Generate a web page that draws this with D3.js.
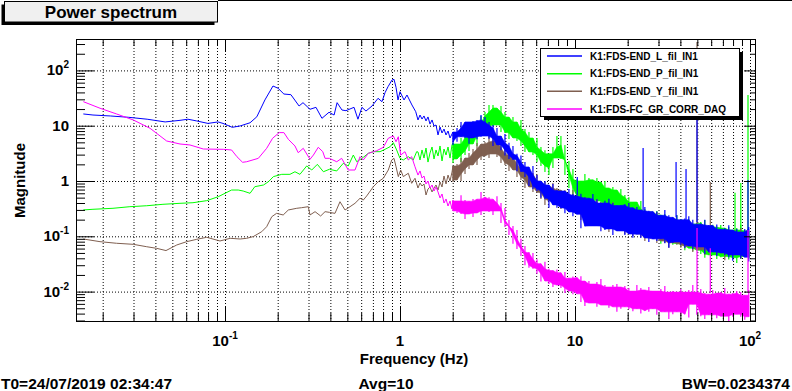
<!DOCTYPE html>
<html><head><meta charset="utf-8">
<script src="https://cdn.jsdelivr.net/npm/d3@7"></script>
<style>body{margin:0;background:#fff;}svg{display:block;font-family:"Liberation Sans",Arial,Helvetica,sans-serif;font-weight:bold;}</style>
</head><body><svg id="c" width="792" height="391"></svg>
<script>
const titleText = "Power spectrum";
const xTitle = "Frequency (Hz)";
const yTitle = "Magnitude";
const infoLeft = "T0=24/07/2019 02:34:47";
const infoMid = "Avg=10";
const infoRight = "BW=0.0234374";
const seriesNames = ["K1:FDS-END_L_fil_IN1","K1:FDS-END_P_fil_IN1","K1:FDS-END_Y_fil_IN1","K1:FDS-FC_GR_CORR_DAQ"];
const seriesColors = ["#0000ff","#00ff00","#7f5f50","#ff00ff"];
const xTickVals = [0.1,1,10,100];
const xTickText = ["10^{-1}","1","10","10^{2}"];
const yTickVals = [0.01,0.1,1,10,100];
const yTickText = ["10^{-2}","10^{-1}","1","10","10^{2}"];

// frequency grid for the dense (noisy) part of the spectra, 2-100 Hz
const bandF = [2.008,2.117,2.232,2.352,2.479,2.613,2.754,2.903,3.059,3.225,3.399,3.582,3.776,3.979,4.194,4.421,4.659,4.911,5.176,5.456,5.750,6.061,6.388,6.733,7.096,7.479,7.883,8.309,8.757,9.230,9.729,10.25,10.81,11.39,12.01,12.65,13.34,14.06,14.82,15.62,16.46,17.35,18.28,19.27,20.31,21.41,22.57,23.78,25.07,26.42,27.85,29.35,30.94,32.61,34.37,36.22,38.18,40.24,42.41,44.70,47.11,49.66,52.34,55.17,58.14,61.28,64.59,68.08,71.76,75.63,79.71,84.02,88.55,93.33,98.37];

// K1:FDS-END_L_fil_IN1 (blue)
const blueLine = [[0.0155,16.3],[0.0176,15.6],[0.0221,15.0],[0.028,14.2],[0.0359,13.1],[0.0455,11.7],[0.0553,12.5],[0.0614,13.1],[0.0688,12.2],[0.0799,11.0],[0.0912,11.7],[0.0974,11.0],[0.110,9.35],[0.122,9.9],[0.139,11.3],[0.152,14.5],[0.169,29.2],[0.188,52.2],[0.201,47.5],[0.217,37.4],[0.238,36.4],[0.265,22.7],[0.279,26.1],[0.306,19.8],[0.331,21.5],[0.358,13.6],[0.393,17.5],[0.420,15.6],[0.437,26.1],[0.466,19.2],[0.491,18.7],[0.546,21.5],[0.575,13.1],[0.606,21.5],[0.639,18.4],[0.692,22.7],[0.749,31.3],[0.789,27.2],[0.821,39.5],[0.854,50.7],[0.900,67],[0.924,69],[0.949,49.4],[0.974,29.2],[1.0,41.2],[1.054,29.2],[1.096,35.9],[1.17,23.7],[1.23,17.9],
  [1.267,12.7],[1.301,15.6],[1.336,13.2],[1.371,15.0],[1.408,12.2],[1.445,14.4],[1.484,10.7],[1.524,12.7],[1.564,9.87],[1.606,10.3],[1.649,6.80],[1.693,9.47],[1.738,7.38],[1.784,8.71],[1.832,6.80],[1.881,8.02],[1.931,6.00],[1.982,7.08]];
const blueHi = [7.7,9.1,11.7,11.7,11.7,12.2,12.7,15.6,14.4,11.7, 10.3,9.1,6.5,7.1,4.9,4.3,3.1,2.9,2.2,1.8, 1.86,1.28,1.0,1.0,0.85,0.88,0.69,0.66,0.66,0.72, 0.58,0.54,0.59,0.51,0.49,0.58,0.47,0.40,0.44,0.48, 0.40,0.36,0.37,0.38,0.40,0.33,0.34,0.30,0.34,0.29, 0.28,0.28,0.24,0.30,0.24,0.22,0.24,0.20,0.21,0.23, 0.20,0.166,0.17,0.20,0.16,0.156,0.163,0.134,0.14,0.159, 0.13,0.136,0.12,0.136,0.148];
const blueLo = [4.5,5.1,6.3,6.0,4.7,6.0,5.7,6.3,6.5,5.8, 4.3,4.5,3.6,2.9,2.5,2.4,1.5,1.45,1.18,0.81, 0.72,0.66,0.50,0.47,0.33,0.37,0.33,0.32,0.26,0.275, 0.23,0.25,0.14,0.152,0.153,0.154,0.153,0.124,0.130,0.136, 0.106,0.125,0.125,0.106,0.11,0.094,0.109,0.093,0.093,0.079, 0.089,0.082,0.090,0.075,0.062,0.076,0.079,0.070,0.062,0.067, 0.059,0.061,0.064,0.048,0.052,0.052,0.044,0.050,0.046,0.042, 0.036,0.046,0.040,0.042,0.035];
const blueSpikes = [[10.3,0.56,1.18],[24.5,0.30,3.95],[37.8,0.22,2.2],[43.1,0.20,1.65],[49.8,0.18,29],[97.4,0.12,1.04]];

// K1:FDS-END_P_fil_IN1 (green)
const greenLine = [[0.0155,0.30],[0.0176,0.308],[0.0229,0.321],[0.0286,0.343],[0.0357,0.357],[0.0442,0.379],[0.0553,0.395],[0.0656,0.405],[0.0786,0.441],[0.0915,0.520],[0.1,0.599],[0.109,0.687],[0.119,0.687],[0.127,0.659],[0.139,0.599],[0.148,0.789],[0.166,0.847],[0.177,0.971],[0.189,1.20],[0.211,1.32],[0.235,1.32],[0.251,1.47],[0.268,1.32],[0.293,1.87],[0.313,1.58],[0.337,2.0],[0.365,1.47],[0.395,1.63],[0.435,1.52],[0.474,2.09],[0.506,1.87],[0.541,2.95],[0.566,2.23],[0.617,2.68],[0.659,3.17],[0.704,3.39],[0.769,3.39],[0.821,3.74],[0.877,4.17],[0.916,4.93],[0.957,3.64],[1.0,2.57],[1.044,2.40],[1.115,2.75],[1.19,2.40],[1.245,3.39],
  [1.267,3.35],[1.301,2.40],[1.336,3.64],[1.371,2.60],[1.408,3.95],[1.445,2.20],[1.484,3.21],[1.524,4.12],[1.564,2.50],[1.606,3.64],[1.649,2.83],[1.693,4.30],[1.738,2.30],[1.784,3.79],[1.832,2.95],[1.881,4.12],[1.931,2.60],[1.982,4.48]];
const greenHi = [4.9,4.67,6.0,8.0,7.1,9.08,11.2,15.0,17.7,23.7, 23.7,20.9,22.7,17.7,14.4,14.3,11.7,12.7,8.71,7.7, 6.0,6.0,4.12,3.6,3.1,4.12,6.5,6.5,4.48,2.3, 1.64,1.08,1.0,1.34,1.13,1.05,1.13,0.96,1.0,0.75, 0.78,0.69,0.72,0.56,0.51,0.417,0.417,0.435,0.312,0.275, 0.275,0.287,0.243,0.253,0.223,0.197,0.242,0.205,0.189,0.205, 0.167,0.174,0.182,0.197,0.148,0.161,0.147,0.160,0.141,0.148, 0.130,0.142,0.161,0.130,0.125];
const greenLo = [2.12,2.50,2.20,2.95,3.49,4.67,4.30,6.52,8.37,7.4, 9.9,10.3,7.7,7.38,5.75,6.0,5.29,4.3,3.34,3.35, 2.95,2.21,1.87,1.45,1.28,1.72,2.6,2.5,1.28,0.747, 0.536,0.368,0.368,0.368,0.453,0.417,0.435,0.325,0.353,0.325, 0.275,0.287,0.205,0.214,0.197,0.160,0.153,0.130,0.101,0.102, 0.105,0.093,0.073,0.082,0.076,0.070,0.073,0.067,0.056,0.061, 0.055,0.056,0.048,0.041,0.046,0.046,0.039,0.042,0.043,0.038, 0.041,0.033,0.039,0.043,0.041];
const greenSpikes = [[82.1,0.13,0.61],[88.6,0.13,0.92],[97.4,0.13,35.9]];

// K1:FDS-END_Y_fil_IN1 (brown)
const brownLine = [[0.0155,0.0894],[0.0193,0.080],[0.0240,0.0748],[0.0299,0.0716],[0.0357,0.0648],[0.0407,0.0606],[0.0460,0.0552],[0.0530,0.0697],[0.0604,0.080],[0.0689,0.0882],[0.0786,0.0959],[0.0936,0.0823],[0.107,0.092],[0.122,0.0894],[0.133,0.092],[0.145,0.0988],[0.162,0.121],[0.173,0.149],[0.185,0.226],[0.197,0.26],[0.215,0.243],[0.230,0.299],[0.257,0.321],[0.274,0.329],[0.299,0.343],[0.306,0.243],[0.327,0.279],[0.352,0.233],[0.373,0.279],[0.395,0.271],[0.425,0.260],[0.454,0.422],[0.485,0.299],[0.518,0.343],[0.553,0.395],[0.591,0.487],[0.617,0.453],[0.645,0.536],[0.704,0.789],[0.751,0.971],[0.803,1.12],[0.857,1.58],[0.897,2.40],[0.924,2.57],[0.949,1.81],[0.978,1.20],[1.009,1.58],[1.044,1.20],[1.115,1.38],[1.166,0.908],[1.218,1.12],
  [1.267,0.747],[1.301,0.920],[1.336,0.812],[1.371,0.883],[1.408,0.558],[1.445,0.717],[1.484,0.779],[1.524,0.633],[1.564,0.747],[1.606,0.847],[1.649,0.687],[1.693,0.959],[1.738,0.779],[1.784,1.23],[1.832,0.883],[1.881,1.28],[1.931,1.0],[1.982,1.45]];
const brownHi = [1.87,2.03,2.61,2.61,3.21,3.80,4.87,4.67,5.07,6.8, 6.0,5.29,5.75,3.95,3.08,2.95,2.72,2.03,1.65,1.52, 1.39,1.33,1.0,0.96,0.815,0.92,0.75,0.69,0.685,0.556, 0.69,0.563,0.49,0.51,0.432,0.435,0.472,0.417,0.353,0.368, 0.417,0.339,0.339,0.339,0.287,0.287,0.312,0.264,0.264,0.233, 0.253,0.275,0.223,0.205,0.223,0.189,0.174,0.189,0.167,0.197, 0.161,0.141,0.141,0.148,0.125,0.148,0.125,0.125,0.110,0.130, 0.115,0.110,0.141,0.111,0.102];
const brownLo = [0.96,1.04,1.0,1.34,1.65,1.95,1.94,2.40,2.83,2.61, 3.08,2.71,2.12,1.95,1.52,1.58,1.18,1.04,0.748,0.779, 0.632,0.607,0.473,0.368,0.435,0.435,0.368,0.312,0.325,0.275, 0.275,0.275,0.197,0.205,0.197,0.160,0.181,0.167,0.147,0.119, 0.147,0.130,0.130,0.110,0.115,0.101,0.110,0.097,0.082,0.093, 0.093,0.076,0.082,0.076,0.062,0.076,0.070,0.062,0.061,0.066, 0.052,0.057,0.057,0.046,0.050,0.054,0.046,0.050,0.037,0.048, 0.044,0.048,0.039,0.044,0.039];
const brownSpikes = [[49.8,0.15,326],[59.3,0.13,0.96]];

// K1:FDS-FC_GR_CORR_DAQ (magenta)
const magentaLine = [[0.0155,27.2],[0.0193,20.7],[0.0240,16.3],[0.0299,12.7],[0.0373,8.97],[0.0464,5.29],[0.0553,4.67],[0.0631,4.48],[0.0752,3.79],[0.0978,3.74],[0.109,3.64],[0.117,2.75],[0.126,2.18],[0.133,2.23],[0.155,2.57],[0.173,3.90],[0.187,5.92],[0.204,7.5],[0.217,7.5],[0.230,5.67],[0.251,4.30],[0.262,3.25],[0.280,3.90],[0.306,2.47],[0.320,2.95],[0.341,4.07],[0.362,3.39],[0.373,2.57],[0.395,2.57],[0.435,2.23],[0.464,2.57],[0.506,1.58],[0.553,1.58],[0.591,2.75],[0.617,2.40],[0.659,3.17],[0.736,3.53],[0.803,4.07],[0.857,5.92],[0.916,6.52],[0.949,5.13],[0.978,6.32],[1.009,2.95],[1.068,3.39],[1.115,2.40],[1.166,2.75],[1.218,1.81],
  [1.267,1.28],[1.301,1.52],[1.336,1.13],[1.371,1.23],[1.408,0.883],[1.445,1.0],[1.484,0.747],[1.524,0.847],[1.564,0.659],[1.606,0.779],[1.649,0.633],[1.693,0.493],[1.738,0.582],[1.784,0.400],[1.832,0.473],[1.881,0.353],[1.931,0.435],[1.982,0.312]];
const magentaHi = [0.45,0.435,0.555,0.454,0.432,0.473,0.47,0.63,0.51,0.51, 0.47,0.53,0.40,0.325,0.197,0.154,0.130,0.090,0.067,0.052, 0.050,0.0386,0.032,0.0345,0.026,0.024,0.025,0.022,0.0227,0.0175, 0.0188,0.018,0.0189,0.0155,0.0155,0.0137,0.0149,0.0169,0.0132,0.0121, 0.0131,0.0137,0.0121,0.0126,0.0116,0.0102,0.0131,0.0116,0.0107,0.0121, 0.0103,0.0102,0.0111,0.0126,0.0098,0.0102,0.0098,0.0111,0.0098,0.0107, 0.0131,0.0098,0.0111,0.0094,0.0090,0.0107,0.0094,0.0098,0.0116,0.0090, 0.0094,0.0102,0.0098,0.0086,0.0107];
const magentaLo = [0.287,0.264,0.253,0.206,0.253,0.223,0.264,0.243,0.287,0.275, 0.243,0.287,0.174,0.148,0.106,0.073,0.059,0.044,0.030,0.027, 0.026,0.021,0.0152,0.0155,0.0137,0.0121,0.0131,0.0116,0.0094,0.0102, 0.0090,0.0091,0.0065,0.0055,0.0062,0.0062,0.0053,0.0057,0.0057,0.0051, 0.0053,0.0043,0.0049,0.0053,0.0048,0.0044,0.0049,0.0040,0.0045,0.0043, 0.0049,0.0038,0.0043,0.0043,0.0032,0.0039,0.0043,0.0038,0.0039,0.0034, 0.0059,0.0038,0.0036,0.0032,0.0038,0.0038,0.0033,0.0036,0.0036,0.0029, 0.0035,0.0039,0.0035,0.0031,0.0035];
const magentaSpikes = [[49.8,0.0098,0.141],[59.3,0.0094,0.061],[97.4,0.0094,0.13]];

const seriesData = [
  {line: blueLine, hi: blueHi, lo: blueLo, spikes: blueSpikes},
  {line: greenLine, hi: greenHi, lo: greenLo, spikes: greenSpikes},
  {line: brownLine, hi: brownHi, lo: brownLo, spikes: brownSpikes},
  {line: magentaLine, hi: magentaHi, lo: magentaLo, spikes: magentaSpikes}
];
const drawOrder = [1,2,0,3];

// ---------- layout ----------
const F = {l:76, r:756, t:39, b:322};
const x = d3.scaleLog().domain([0.014076,108.21]).range([F.l,F.r]);
const y = d3.scaleLog().domain([0.00282,369.7]).range([F.b,F.t]);
const svg = d3.select("#c");

const xAll=[], xMajor=[0.1,1,10,100];
[0.01,0.1,1,10].forEach(d=>{for(let m=1;m<=9;m++){const v=+(m*d).toPrecision(3); if(v>=x.domain()[0]&&v<=x.domain()[1]) xAll.push(v);}});
xAll.push(100);
const xMinor = xAll.filter(v=>!xMajor.includes(v));
const yMajor=[0.01,0.1,1,10,100], yMinor=[];
[0.001,0.01,0.1,1,10,100].forEach(d=>{for(let m=2;m<=9;m++){const v=+(m*d).toPrecision(3); if(v>=y.domain()[0]&&v<=y.domain()[1]) yMinor.push(v);}});

// grid
const grid = svg.append("g");
grid.append("g").attr("transform",`translate(0,${F.b})`)
  .call(d3.axisBottom(x).tickValues(xAll).tickSize(-(F.b-F.t)).tickFormat("").tickSizeOuter(0))
  .call(g=>{g.select(".domain").remove(); g.selectAll("line").attr("stroke","#000").attr("stroke-dasharray","1,2");});
grid.append("g").attr("transform",`translate(${F.l},0)`)
  .call(d3.axisLeft(y).tickValues(yMajor).tickSize(-(F.r-F.l)).tickFormat("").tickSizeOuter(0))
  .call(g=>{g.select(".domain").remove(); g.selectAll("line").attr("stroke","#000").attr("stroke-dasharray","1,2");});

// series
svg.append("clipPath").attr("id","clip").append("rect").attr("x",F.l).attr("y",F.t).attr("width",F.r-F.l).attr("height",F.b-F.t);
const plot = svg.append("g").attr("clip-path","url(#clip)");
const lineGen = d3.line().x(d=>x(d[0])).y(d=>y(d[1]));
const areaGen = d3.area().x(d=>x(d[0])).y0(d=>y(d[1])).y1(d=>y(d[2]));
drawOrder.forEach(k=>{
  const s = seriesData[k], col = seriesColors[k];
  const n = bandF.length;
  // low-frequency trace joined to the first dense bin
  plot.append("path").attr("d",lineGen(s.line.concat([[bandF[0],s.hi[0]]]))).attr("fill","none").attr("stroke",col).attr("stroke-width",1);
  // dense core: inner envelope of neighbouring bins
  const core = bandF.map((f,i)=>{
    const a=Math.max(0,i-1), b=Math.min(n-1,i+1);
    let lo=Math.max(s.lo[a],s.lo[i],s.lo[b]), hi=Math.min(s.hi[a],s.hi[i],s.hi[b]);
    if(lo>hi){const m=Math.sqrt(lo*hi); lo=m; hi=m;}
    return [f,lo,hi];
  });
  plot.append("path").attr("d",areaGen(core)).attr("fill",col).attr("stroke",col).attr("stroke-width",0.6);
  // per-bin excursions
  plot.append("g").selectAll("line").data(bandF).join("line")
    .attr("x1",d=>x(d)).attr("x2",d=>x(d))
    .attr("y1",(d,i)=>y(s.lo[i])).attr("y2",(d,i)=>y(s.hi[i]))
    .attr("stroke",col).attr("stroke-width",1.2);
  s.spikes.forEach(sp=>{
    plot.append("line").attr("x1",x(sp[0])).attr("x2",x(sp[0])).attr("y1",y(sp[1])).attr("y2",y(sp[2]))
      .attr("stroke",col).attr("stroke-width",1.2);
  });
});

// frame ticks on all four sides
function ticks(axis, pos, vals, size){
  svg.append("g").attr("transform",pos)
    .call(axis.tickValues(vals).tickSize(size).tickFormat("").tickSizeOuter(0))
    .call(g=>{g.select(".domain").remove(); g.selectAll("line").attr("stroke","#000");});
}
ticks(d3.axisBottom(x),`translate(0,${F.b})`,xMinor,-9);
ticks(d3.axisBottom(x),`translate(0,${F.b})`,xMajor,-16);
ticks(d3.axisTop(x),`translate(0,${F.t})`,xMinor,-7);
ticks(d3.axisTop(x),`translate(0,${F.t})`,xMajor,-12);
ticks(d3.axisLeft(y),`translate(${F.l},0)`,yMinor,-9);
ticks(d3.axisLeft(y),`translate(${F.l},0)`,yMajor,-18);
ticks(d3.axisRight(y),`translate(${F.r},0)`,yMinor,-6);
ticks(d3.axisRight(y),`translate(${F.r},0)`,yMajor,-12);

svg.append("rect").attr("x",F.l+0.5).attr("y",F.t+0.5).attr("width",F.r-F.l-1).attr("height",F.b-F.t-1)
  .attr("fill","none").attr("stroke","#000");

function sup(sel, s){
  const m = s.match(/^(.*)\^\{(.*)\}$/);
  if(m){ sel.append("tspan").text(m[1]); sel.append("tspan").attr("font-size",10).attr("dy",-7).text(m[2]); }
  else sel.text(s);
}
xTickVals.forEach((v,i)=>{
  const t = svg.append("text").attr("x",x(v)).attr("y",346).attr("text-anchor","middle").attr("font-size",15);
  sup(t, xTickText[i]);
});
yTickVals.forEach((v,i)=>{
  const t = svg.append("text").attr("x",69).attr("y",y(v)+5).attr("text-anchor","end").attr("font-size",15);
  sup(t, yTickText[i]);
});
svg.append("text").attr("x",(F.l+F.r)/2-2).attr("y",364).attr("text-anchor","middle").attr("font-size",15).text(xTitle);
svg.append("text").attr("transform",`translate(25,${(F.t+F.b)/2}) rotate(-90)`).attr("text-anchor","middle").attr("font-size",15).text(yTitle);

svg.append("text").attr("x",1).attr("y",389).attr("font-size",15.5).text(infoLeft);
svg.append("text").attr("x",386).attr("y",389).attr("text-anchor","middle").attr("font-size",15.5).text(infoMid);
svg.append("text").attr("x",790).attr("y",389).attr("text-anchor","end").attr("font-size",15.5).text(infoRight);

// title box
svg.append("line").attr("x1",218).attr("x2",792).attr("y1",0.5).attr("y2",0.5).attr("stroke","#000");
svg.append("rect").attr("x",1.5).attr("y",4.5).attr("width",213).attr("height",20.5).attr("fill","#000");
svg.append("rect").attr("x",4.5).attr("y",1.5).attr("width",213).attr("height",20.5).attr("fill","#f0f0f0").attr("stroke","#000");
svg.append("text").attr("x",111).attr("y",18).attr("text-anchor","middle").attr("font-size",17).text(titleText);

// legend
const L = {x:540, y:48, w:199, h:68};
svg.append("rect").attr("x",L.x+4).attr("y",L.y+4).attr("width",L.w).attr("height",L.h).attr("fill","#000");
svg.append("rect").attr("x",L.x+0.5).attr("y",L.y+0.5).attr("width",L.w).attr("height",L.h).attr("fill","#fff").attr("stroke","#000");
const rowY = d3.scaleLinear().domain([0,3]).range([L.y+8,L.y+61]);
seriesNames.forEach((n,i)=>{
  svg.append("line").attr("x1",L.x+7).attr("x2",L.x+42).attr("y1",rowY(i)).attr("y2",rowY(i)).attr("stroke",seriesColors[i]).attr("stroke-width",1.5);
  svg.append("text").attr("x",L.x+50).attr("y",rowY(i)+3.5).attr("font-size",10).text(n);
});
</script></body></html>
